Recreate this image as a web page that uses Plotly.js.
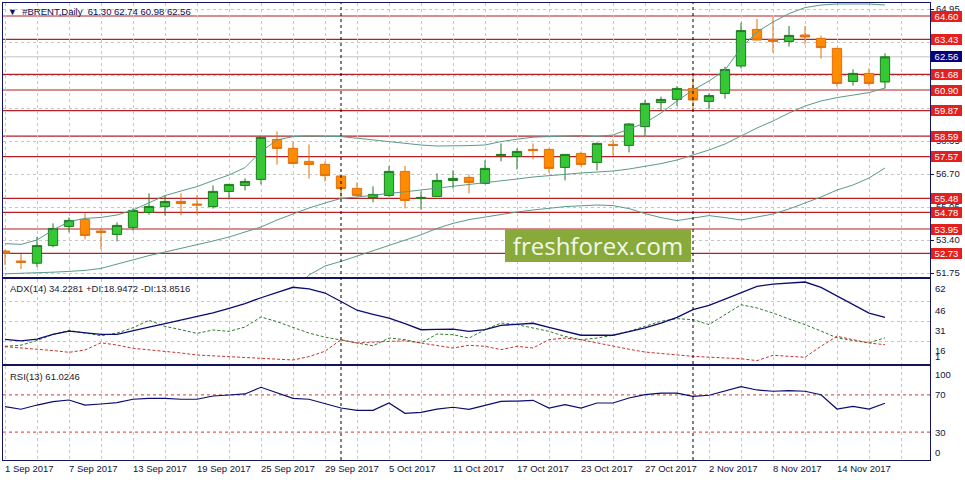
<!DOCTYPE html>
<html><head><meta charset="utf-8">
<script src="https://cdn.plot.ly/plotly-3.0.1.min.js"></script>
<style>html,body{margin:0;padding:0;background:#fff;}#chart{width:965px;height:483px;}</style>
</head><body><div id="chart"></div>
<script>
// ---- data ----
const dates = ["1 Sep 2017","4 Sep 2017","5 Sep 2017","6 Sep 2017","7 Sep 2017","8 Sep 2017","11 Sep 2017","12 Sep 2017","13 Sep 2017","14 Sep 2017","15 Sep 2017","18 Sep 2017","19 Sep 2017","20 Sep 2017","21 Sep 2017","22 Sep 2017","25 Sep 2017","26 Sep 2017","27 Sep 2017","28 Sep 2017","29 Sep 2017","2 Oct 2017","3 Oct 2017","4 Oct 2017","5 Oct 2017","6 Oct 2017","9 Oct 2017","10 Oct 2017","11 Oct 2017","12 Oct 2017","13 Oct 2017","16 Oct 2017","17 Oct 2017","18 Oct 2017","19 Oct 2017","20 Oct 2017","23 Oct 2017","24 Oct 2017","25 Oct 2017","26 Oct 2017","27 Oct 2017","30 Oct 2017","31 Oct 2017","1 Nov 2017","2 Nov 2017","3 Nov 2017","6 Nov 2017","7 Nov 2017","8 Nov 2017","9 Nov 2017","10 Nov 2017","13 Nov 2017","14 Nov 2017","15 Nov 2017","16 Nov 2017","17 Nov 2017"];
const open  = [52.85,52.35,52.24,53.12,54.08,54.43,53.85,53.68,54.03,54.78,55.07,55.33,55.20,55.07,55.83,56.13,56.43,58.43,57.98,57.33,57.18,56.60,55.98,55.52,55.63,56.83,55.47,55.58,56.38,56.53,56.23,57.62,57.58,57.93,57.93,57.03,57.73,57.28,58.18,58.13,59.07,60.27,60.43,60.98,60.33,60.73,62.10,63.93,63.43,63.33,63.65,63.48,62.98,61.33,61.73,61.30];
const high  = [52.92,52.70,53.57,54.23,54.53,54.73,54.00,54.28,54.98,55.73,55.63,55.73,55.63,56.13,56.20,56.48,58.62,58.83,58.28,58.18,57.32,56.62,56.28,56.08,57.10,57.10,55.83,56.73,56.88,56.68,57.38,58.23,57.98,58.23,57.98,57.70,57.83,58.28,58.43,59.25,60.40,60.57,61.10,61.60,60.73,62.07,64.27,64.45,64.53,64.10,64.10,63.62,63.02,61.93,61.98,62.74];
const low   = [52.15,51.95,52.05,53.04,53.78,53.43,52.93,53.33,53.87,54.67,54.63,54.63,54.68,54.97,55.43,55.88,56.18,57.17,57.17,56.47,56.32,55.43,55.57,55.28,55.57,54.98,54.93,55.55,55.97,55.73,56.18,57.33,56.93,57.43,56.78,56.38,57.08,56.88,57.63,57.78,58.57,59.90,60.10,59.87,59.93,60.47,61.98,63.38,62.77,63.07,63.18,62.47,61.07,61.12,61.10,60.98];
const close = [52.73,52.28,53.12,53.98,54.38,53.63,53.78,54.13,54.88,55.08,55.33,55.22,55.15,55.83,56.18,56.33,58.53,57.98,57.23,57.18,56.62,55.97,55.63,55.68,56.83,55.38,55.53,56.38,56.48,56.28,56.98,57.68,57.83,57.87,56.98,57.68,57.18,58.23,58.13,59.20,60.23,60.43,60.98,60.40,60.62,61.93,63.87,63.40,63.33,63.63,63.55,63.02,61.23,61.73,61.23,62.56];

const bbUpper  = [53.22,53.18,53.40,53.90,54.32,54.48,54.53,54.65,54.90,55.27,55.62,55.85,56.07,56.37,56.65,57.02,57.82,58.40,58.57,58.60,58.60,58.57,58.49,58.40,58.32,58.24,58.15,58.10,58.10,58.12,58.15,58.32,58.44,58.54,58.57,58.60,58.62,58.58,58.65,58.95,59.25,59.75,60.35,60.90,61.35,61.90,63.00,63.80,64.30,64.72,65.02,65.15,65.20,65.20,65.20,65.15];
const bbMiddle = [51.71,51.73,51.75,51.79,51.83,51.88,51.98,52.20,52.42,52.62,52.80,52.98,53.15,53.35,53.55,53.80,54.05,54.40,54.70,55.00,55.25,55.48,55.55,55.65,55.73,55.81,55.90,55.98,56.06,56.16,56.25,56.35,56.45,56.55,56.62,56.70,56.75,56.80,56.85,56.95,57.07,57.22,57.40,57.65,57.90,58.20,58.62,59.00,59.35,59.75,60.10,60.35,60.52,60.65,60.77,61.00];
const bbLower  = [50.20,50.28,50.10,49.70,49.35,49.30,49.40,49.55,49.95,50.00,50.00,50.10,50.20,50.30,50.45,50.60,50.30,50.40,50.85,51.65,52.10,52.33,52.60,52.88,53.15,53.40,53.66,53.98,54.23,54.42,54.55,54.70,54.80,54.90,55.00,55.07,55.11,55.15,55.12,54.97,54.72,54.52,54.37,54.49,54.62,54.52,54.40,54.55,54.70,54.95,55.25,55.55,55.90,56.15,56.50,57.00];

const adx     = [17.8,16.7,18.0,21.5,24.0,23.0,21.5,21.6,24.5,27.0,29.5,32.0,34.7,37.5,40.9,44.5,48.8,52.5,56.6,55.4,52.3,46.0,39.5,36.5,33.7,29.5,25.0,25.2,25.5,23.8,25.0,28.3,29.0,29.8,26.8,24.0,20.9,20.9,20.9,23.5,26.3,30.0,34.2,39.9,43.2,47.7,52.3,57.3,59.0,59.8,60.5,56.5,50.0,43.5,37.4,34.23];
const plusDI  = [12.6,13.5,17.0,21.5,24.5,22.5,20.5,22.5,26.5,32.0,27.5,25.0,22.3,24.8,23.8,27.0,34.5,31.0,26.5,22.5,19.5,17.5,15.1,13.0,18.8,17.6,15.1,21.8,21.3,18.8,25.0,30.0,28.8,26.3,23.8,20.0,17.6,18.8,20.9,23.8,27.5,31.3,33.2,32.5,28.8,36.2,43.6,41.2,37.4,33.0,28.8,24.0,19.0,17.0,15.3,18.95];
const minusDI = [12.4,11.6,10.5,9.5,8.2,9.9,15.3,13.6,11.2,10.2,9.2,7.7,6.2,5.6,5.0,4.4,3.8,3.2,2.5,5.0,9.0,17.6,15.1,15.8,16.4,16.8,15.1,13.3,11.4,13.4,12.7,10.2,12.7,11.4,17.6,18.8,17.6,15.2,12.7,10.5,8.4,7.2,6.0,5.2,4.6,4.0,3.4,2.0,6.0,5.2,4.5,12.7,20.1,17.6,15.1,13.85];
const rsi     = [57.3,54.6,59.1,62.7,64.5,59.1,60.2,61.6,65.3,66.3,66.3,65.3,65.3,68.8,69.9,71.0,78.2,72.4,66.3,65.3,61.0,55.9,53.4,53.4,61.3,50.2,51.3,54.8,56.7,54.5,58.8,63.1,63.4,64.2,55.9,59.5,55.9,61.3,61.3,66.7,70.2,72.0,72.0,68.5,69.6,73.9,78.8,75.3,73.9,74.5,73.9,70.2,54.8,57.7,54.8,61.02];

const levels     = [64.60,63.43,61.68,60.90,59.87,58.59,57.57,55.48,54.78,53.95,52.73];
const priceTicks = [51.75,53.40,55.05,56.70,58.35,60.00,61.65,63.30,64.95];
const adxTicks   = [62,46,31,16,1];
const rsiTicks   = [100,70,30,0];
const rsiLevels  = [70,30];
const adxReadout = ["34.2281","18.9472","13.8516"];
const rsiReadout = ["61.0246"];
const symbol = "#BRENT,Daily";
const watermark = "freshforex.com";

// ---- geometry helpers (pixels of the 965x483 frame) ----
const X0 = 3, X1 = 930, YT = 3, YB = 460, H = YB - YT;
const py = p => (YB - p) / H;
const pxX = p => (p - X0) / (X1 - X0);
const idx = dates.map((_, i) => i);
const last = idx.length - 1;
const fmt = v => v.toFixed(2);
const NAVY = '#14145a';
const TXT = '#12123a';
const FONT = 'Liberation Sans, Arial, sans-serif';

const traces = [
  {type:'candlestick', x:idx, open, high, low, close, xaxis:'x', yaxis:'y',
   increasing:{line:{color:'#1f7a1f', width:1}, fillcolor:'#34c934'},
   decreasing:{line:{color:'#e0700c', width:1}, fillcolor:'#ff8c00'},
   whiskerwidth:0, hoverinfo:'none'},
  {type:'scatter', mode:'lines', x:idx, y:bbUpper, xaxis:'x', yaxis:'y', line:{color:'#5a9a88', width:1}},
  {type:'scatter', mode:'lines', x:idx, y:bbMiddle, xaxis:'x', yaxis:'y', line:{color:'#5a9a88', width:1}},
  {type:'scatter', mode:'lines', x:idx, y:bbLower, xaxis:'x', yaxis:'y', line:{color:'#5a9a88', width:1}},
  {type:'scatter', mode:'lines', x:idx, y:plusDI, xaxis:'x2', yaxis:'y2', line:{color:'#2c7a2c', width:1, dash:'3px,2px'}},
  {type:'scatter', mode:'lines', x:idx, y:minusDI, xaxis:'x2', yaxis:'y2', line:{color:'#c8322a', width:1, dash:'3px,2px'}},
  {type:'scatter', mode:'lines', x:idx, y:adx, xaxis:'x2', yaxis:'y2', line:{color:'#0c0c6e', width:1.3}},
  {type:'scatter', mode:'lines', x:idx, y:rsi, xaxis:'x3', yaxis:'y3', line:{color:'#0c0c6e', width:1.2}}
];

const xBase = {range:[-0.125, 57.8125], showline:true, mirror:true, linecolor:NAVY, linewidth:1,
  showgrid:true, gridcolor:'#c6c6c6', griddash:'3px,3px', gridwidth:1, tick0:0, dtick:2,
  showticklabels:false, ticks:'', zeroline:false, fixedrange:true};
const yBase = {side:'right', showline:true, mirror:true, linecolor:NAVY, linewidth:1, zeroline:false,
  gridcolor:'#c6c6c6', griddash:'3px,3px', fixedrange:true};

const shapes = [];
levels.forEach(l => shapes.push({type:'line', xref:'paper', x0:0, x1:1, yref:'y', y0:l, y1:l,
  line:{color:'#b42024', width:1.2}, layer:'between'}));
shapes.push({type:'line', xref:'paper', x0:0, x1:1, yref:'y', y0:close[last], y1:close[last],
  line:{color:'#c4c4c4', width:1}, layer:'between'});
rsiLevels.forEach(l => shapes.push({type:'line', xref:'paper', x0:0, x1:1, yref:'y3', y0:l, y1:l,
  line:{color:'#c83a3a', width:1, dash:'3px,3px'}, layer:'between'}));
const month = d => d.split(' ')[1];
idx.forEach(i => { if (i > 0 && month(dates[i]) !== month(dates[i-1])) {
  shapes.push({type:'line', xref:'x', x0:i, x1:i, yref:'paper', y0:0, y1:1,
    line:{color:'#000000', width:1, dash:'3px,3px'}, layer:'above'}); }});

// price-scale labels that sit right under a level box are fully covered in the reference
const covered = v => levels.some(l => Math.abs(l - v) < 0.2);
const priceTickText = priceTicks.map(v => covered(v) ? '' : fmt(v));

const ann = [];
levels.forEach(l => ann.push({xref:'paper', x:1, xanchor:'left', xshift:1, yref:'y', y:l, yanchor:'middle',
  text:fmt(l), showarrow:false, bgcolor:'#e4201e', borderwidth:0, borderpad:1, width:29, height:9,
  align:'center', font:{color:'#ffffff', size:9.5, family:FONT}}));
ann.push({xref:'paper', x:1, xanchor:'left', xshift:1, yref:'y', y:close[last], yanchor:'middle',
  text:fmt(close[last]), showarrow:false, bgcolor:'#000080', borderwidth:0, borderpad:1, width:29, height:9,
  align:'center', font:{color:'#ffffff', size:9.5, family:FONT}});
adxTicks.forEach(v => ann.push({xref:'paper', x:1, xanchor:'left', xshift:3, yref:'y2', y:v,
  yanchor: v === adxTicks[adxTicks.length-1] ? 'bottom' : 'top', yshift: v === adxTicks[adxTicks.length-1] ? -2 : -1,
  text:String(v), showarrow:false, font:{color:TXT, size:9.5, family:FONT}}));
rsiTicks.forEach(v => ann.push({xref:'paper', x:1, xanchor:'left', xshift:3, yref:'y3', y:v,
  yanchor: v === 100 ? 'top' : (v === 0 ? 'bottom' : 'middle'),
  text:String(v), showarrow:false, font:{color:TXT, size:9.5, family:FONT}}));
idx.filter(i => i % 4 === 0).forEach(i => ann.push({xref:'x3', x:i, xanchor:'left', xshift:-2,
  yref:'paper', y:py(468), yanchor:'middle', text:dates[i], showarrow:false,
  font:{color:TXT, size:9.5, family:FONT}}));
ann.push({xref:'paper', x:pxX(6), xanchor:'left', yref:'paper', y:py(11.5), yanchor:'middle', showarrow:false,
  text:'<span style="font-size:9px">▼</span>\u00a0\u00a0' + symbol + '\u00a0\u00a0' +
       [open[last], high[last], low[last], close[last]].map(fmt).join(' '),
  font:{color:'#0c0c50', size:9.5, family:FONT}});
ann.push({xref:'paper', x:pxX(8), xanchor:'left', yref:'paper', y:py(288), yanchor:'middle', showarrow:false,
  text:'ADX(14) ' + adxReadout[0] + ' +DI:' + adxReadout[1] + ' -DI:' + adxReadout[2],
  font:{color:'#1a1a30', size:9.5, family:FONT}});
ann.push({xref:'paper', x:pxX(8), xanchor:'left', yref:'paper', y:py(376), yanchor:'middle', showarrow:false,
  text:'RSI(13) ' + rsiReadout[0], font:{color:'#1a1a30', size:9.5, family:FONT}});
ann.push({xref:'paper', x:pxX(598), xanchor:'center', yref:'paper', y:py(245.5), yanchor:'middle', showarrow:false,
  text:watermark, bgcolor:'#87aa3b', borderwidth:0, borderpad:0, width:186, height:33,
  font:{color:'#f3f6ea', size:24, family:'Open Sans, sans-serif'}});

const layout = {
  width:965, height:483, margin:{l:3, r:35, t:3, b:23}, paper_bgcolor:'#ffffff', plot_bgcolor:'#ffffff',
  showlegend:false, boxgap:0.42, boxgroupgap:0, font:{family:FONT, size:9.5, color:TXT},
  xaxis: Object.assign({}, xBase, {anchor:'y', rangeslider:{visible:false}}),
  xaxis2: Object.assign({}, xBase, {anchor:'y2', matches:'x'}),
  xaxis3: Object.assign({}, xBase, {anchor:'y3', matches:'x'}),
  yaxis: Object.assign({}, yBase, {anchor:'x', domain:[py(277), 1], range:[51.55, 65.25],
    tickvals:priceTicks, ticktext:priceTickText, showgrid:true, ticks:'outside', ticklen:3,
    tickcolor:NAVY, tickfont:{size:9.5, color:TXT, family:FONT}}),
  yaxis2: Object.assign({}, yBase, {anchor:'x2', domain:[py(364), py(279)], range:[-0.5, 62.744],
    tickvals:adxTicks.slice(1, -1), showgrid:true, showticklabels:false, ticks:''}),
  yaxis3: Object.assign({}, yBase, {anchor:'x3', domain:[0, py(366)], range:[0, 101.075],
    tickvals:rsiTicks, showgrid:false, showticklabels:false, ticks:''}),
  shapes, annotations:ann
};

Plotly.newPlot('chart', traces, layout, {staticPlot:true, displayModeBar:false});
</script></body></html>
